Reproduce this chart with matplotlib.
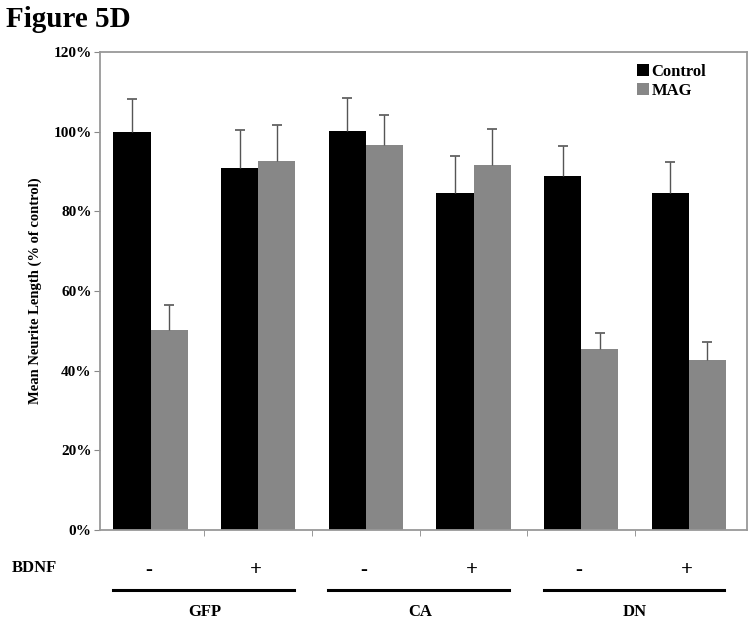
import matplotlib
matplotlib.use('Agg')
import matplotlib.pyplot as plt
import numpy as np
from matplotlib.ticker import FuncFormatter, FixedLocator

plt.rcParams['font.family'] = ['Liberation Serif', 'DejaVu Serif']
plt.rcParams['font.weight'] = 'bold'

# data (% of control)
bdnf = ['-', '+', '-', '+', '-', '+']
groups = ['GFP', 'CA', 'DN']
control = [100.0, 91.0, 100.2, 84.7, 88.9, 84.7]
control_err = [8.3, 9.4, 8.3, 9.2, 7.6, 7.6]
mag = [50.2, 92.6, 96.7, 91.6, 45.5, 42.6]
mag_err = [6.2, 9.0, 7.5, 9.2, 4.1, 4.5]

fig = plt.figure(figsize=(7.5, 6.2), dpi=100)
ax = fig.add_axes([0.1333, 0.145, 0.8627, 0.771])

x = np.arange(len(bdnf))
width = 0.345

ax.bar(x - width/2, control, width, color='black', label='Control', zorder=2)
ax.bar(x + width/2, mag, width, color='#878787', label='MAG', zorder=2)

# upper-only error bars
for xs, vals, errs in [(x - width/2, control, control_err), (x + width/2, mag, mag_err)]:
    tops = np.array(vals) + np.array(errs)
    ax.vlines(xs, vals, tops, color='#555555', lw=1.0, zorder=3)
    ax.plot(xs, tops, ls='none', marker='_', ms=7, mew=1.2, color='#555555', zorder=3)

ax.set_xlim(-0.47, 5.54)
ax.set_ylim(0, 120)
ax.set_yticks(np.arange(0, 121, 20))
ax.yaxis.set_major_formatter(FuncFormatter(lambda v, p: f'{int(v)}%'))
ax.set_xticks([])
ax.xaxis.set_minor_locator(FixedLocator(np.arange(0.5, 5.0, 1.0)))
ax.tick_params(axis='x', which='minor', length=4, color='#888888')
ax.tick_params(axis='y', length=4, color='#888888', labelsize=11, pad=2)
for lbl in ax.get_yticklabels():
    lbl.set_fontweight('bold')
for sp in ax.spines.values():
    sp.set_color('#999999')
    sp.set_linewidth(1.3)

ax.set_ylabel('Mean Neurite Length (% of control)', fontsize=10.5,
              fontweight='bold', labelpad=8)

ax.legend(loc='upper right', bbox_to_anchor=(0.955, 1.0), frameon=False,
          fontsize=12, handlelength=0.7, handleheight=0.7,
          handletextpad=0.15, labelspacing=0.2, borderaxespad=0.3)

# BDNF row and group bars below the axis
trans = ax.get_xaxis_transform()
fig.text(0.016, (620 - 568) / 620, 'BDNF', ha='left', va='center',
         fontsize=12, fontweight='bold')
for xi, s in zip(x, bdnf):
    ax.text(xi - 0.02, -0.084, s, transform=trans, ha='center', va='center',
            fontsize=15, fontweight='bold')
for gi, g in enumerate(groups):
    left = 2 * gi - 0.35
    right = 2 * gi + 1 + 0.33
    ax.plot([left, right], [-0.126, -0.126], transform=trans, color='black',
            lw=2.2, clip_on=False)
    ax.text(2 * gi + 0.5, -0.172, g, transform=trans, ha='center', va='center',
            fontsize=12, fontweight='bold')

fig.text(0.008, 0.968, 'Figure 5D', fontsize=21, fontweight='bold',
         ha='left', va='center')

fig.savefig('out.png', dpi=100)
